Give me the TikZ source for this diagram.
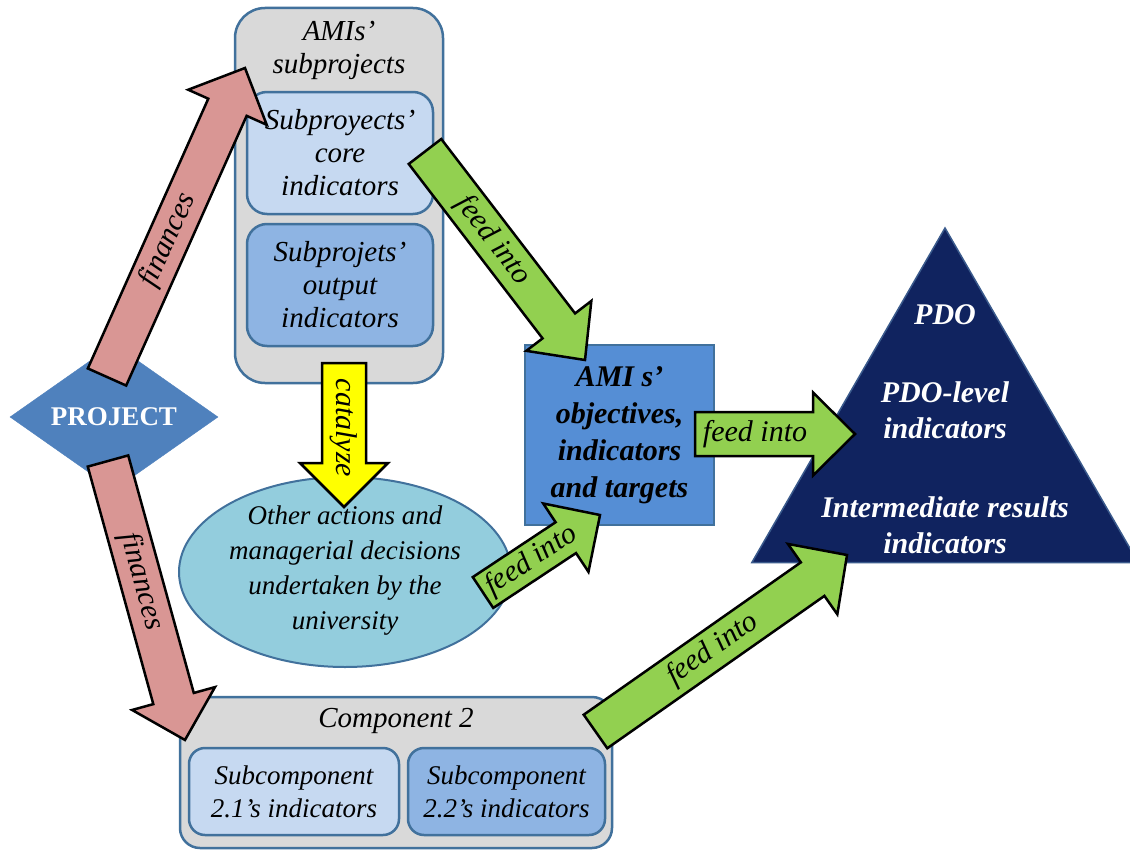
\documentclass[tikz,border=0pt]{standalone}
\usepackage{fontspec}
\setmainfont{Liberation Serif}
\usetikzlibrary{shapes.geometric}
\definecolor{bord}{HTML}{41719C}
\definecolor{grayc}{HTML}{D9D9D9}
\definecolor{lightb}{HTML}{C6D9F1}
\definecolor{midb}{HTML}{8EB4E3}
\definecolor{amib}{HTML}{558ED5}
\definecolor{diac}{HTML}{4F81BD}
\definecolor{ellc}{HTML}{93CDDD}
\definecolor{navy}{HTML}{10235F}
\definecolor{navyb}{HTML}{3A5A8C}
\definecolor{pinkc}{HTML}{D99694}
\definecolor{greenc}{HTML}{92D050}
\definecolor{yellowc}{HTML}{FFFF00}
\newcommand\fatarrow[9]{%
 \pgfmathanglebetweenpoints{\pgfpointanchor{#1}{center}}{\pgfpointanchor{#2}{center}}%
 \let\faang\pgfmathresult
 \pgfpointdiff{\pgfpointanchor{#1}{center}}{\pgfpointanchor{#2}{center}}%
 \pgfgetlastxy{\fadx}{\fady}%
 \pgfmathveclen{\fadx}{\fady}\let\falen\pgfmathresult
 \begin{scope}[shift={(#1)}, rotate=\faang]
  \draw[fatarr, fill=#3] (0pt,-#4pt) -- ({\falen pt-#6pt},-#4pt) -- ({\falen pt-#6pt},-#5pt)
     -- (\falen pt,0pt) -- ({\falen pt-#6pt},#5pt) -- ({\falen pt-#6pt},#4pt) -- (0pt,#4pt) -- cycle;
  \node[arrtxt, transform shape] (#9) at (#7pt,0pt) {#8};
 \end{scope}}
\begin{document}
\begin{tikzpicture}[x=1pt,y=-1pt,
  box/.style={draw=bord, line width=2.5pt, rounded corners=20pt, inner sep=0pt, align=center},
  itx/.style={font=\fontsize{29}{33}\selectfont\itshape, align=center, inner sep=0pt},
  btx/.style={font=\fontsize{30}{36}\selectfont\bfseries\itshape, align=center, inner sep=0pt, text=white},
  fatarr/.style={draw=black, line width=2.5pt, line join=miter},
  arrtxt/.style={font=\fontsize{30}{33}\selectfont\itshape, inner sep=0pt}]
\useasboundingbox (0,0) rectangle (1130,851);
\fill[white] (0,0) rectangle (1130,851);

% AMIs subprojects
\node[box, fill=grayc, minimum width=208pt, minimum height=375pt, rounded corners=30pt] (amis) at (339,195.5) {};
\node[itx] (amistitle) at (339,50) {AMIs'\\subprojects};
\node[box, fill=lightb, minimum width=186pt, minimum height=122pt, font=\fontsize{29}{33}\selectfont\itshape] (core) at (340,153) {Subproyects'\\core\\indicators};
\node[box, fill=midb, minimum width=186pt, minimum height=122pt, font=\fontsize{29}{33}\selectfont\itshape] (outp) at (340,285) {Subprojets'\\output\\indicators};

% PROJECT
\node[diamond, aspect=1.42, fill=diac, draw=diac, minimum width=208pt, minimum height=146pt, inner sep=0pt,
      text=white, font=\fontsize{27}{30}\selectfont\bfseries] (proj) at (114,417) {PROJECT};

% ellipse
\node[ellipse, draw=bord, fill=ellc, line width=2pt, minimum width=332pt, minimum height=190pt, inner sep=0pt] (ell) at (345,572) {};
\node[font=\fontsize{27}{35}\selectfont\itshape, align=center, inner sep=0pt] (elltxt) at (345,571) {Other actions and\\managerial decisions\\undertaken by the\\university};

% AMI box
\node[draw=bord, line width=2.5pt, fill=amib, minimum width=189pt, minimum height=180pt, inner sep=0pt, align=center,
      font=\fontsize{30}{37}\selectfont\bfseries\itshape] (ami) at (619.5,435) {AMI s'\\objectives,\\indicators\\and targets};

% triangle
\node[regular polygon, regular polygon sides=3, minimum size=446pt, inner sep=0pt, fill=navy, draw=navyb, line width=1.5pt] (pdo) at (945,451) {};
\node[btx] (pdot) at (945,315) {PDO};
\node[btx] (pdol) at (945,410) {PDO-level\\indicators};
\node[btx] (irt) at (945,525) {Intermediate results\\indicators};

% Component 2
\node[box, fill=grayc, minimum width=432pt, minimum height=151pt] (comp) at (396,772.5) {};
\node[itx] (comptitle) at (396,721) {Component 2};
\node[box, fill=lightb, minimum width=210pt, minimum height=87pt, rounded corners=16pt, font=\fontsize{27}{33}\selectfont\itshape] (sub1) at (294,791.5) {Subcomponent\\2.1's indicators};
\node[box, fill=midb, minimum width=197pt, minimum height=87pt, rounded corners=16pt, font=\fontsize{27}{33}\selectfont\itshape] (sub2) at (506.5,791.5) {Subcomponent\\2.2's indicators};

% connector end points
\coordinate (finAs) at (107,377); \coordinate (finAe) at (245,68);
\coordinate (finBs) at (108,461); \coordinate (finBe) at (185,740);
\coordinate (catS) at (344,363);  \coordinate (catE) at (344,507);
\coordinate (fdAs) at (425,151.5); \coordinate (fdAe) at (585,360);
\coordinate (fdBs) at (695,434);  \coordinate (fdBe) at (855,434);
\coordinate (fdCs) at (483,592.5); \coordinate (fdCe) at (600,515);
\coordinate (fdDs) at (595.5,731.5); \coordinate (fdDe) at (847,555);

\fatarrow{finAs}{finAe}{pinkc}{21}{43}{43}{150}{finances}{lfinA}
\fatarrow{finBs}{finBe}{pinkc}{21}{43}{43}{125}{finances}{lfinB}
\fatarrow{catS}{catE}{yellowc}{22}{44}{44}{65}{catalyze}{lcat}
\fatarrow{fdAs}{fdAe}{greenc}{20.5}{41}{43}{112}{feed into}{lfdA}
\fatarrow{fdBs}{fdBe}{greenc}{22}{41.5}{42}{60}{feed into}{lfdB}
\fatarrow{fdCs}{fdCe}{greenc}{18.5}{41}{41}{58}{feed into}{lfdC}
\fatarrow{fdDs}{fdDe}{greenc}{20.5}{43}{42}{143}{feed into}{lfdD}
\end{tikzpicture}
\end{document}
